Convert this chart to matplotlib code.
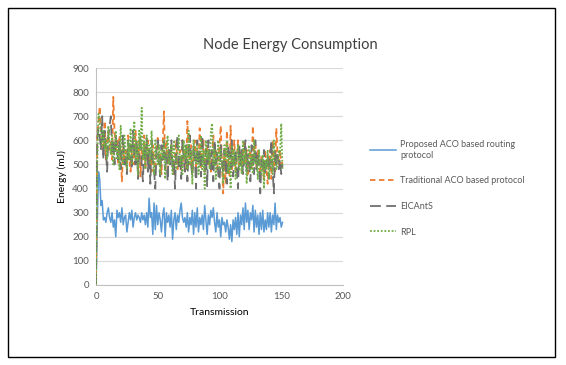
import matplotlib
matplotlib.use("Agg")
import matplotlib.pyplot as plt
from matplotlib.patches import Rectangle
import numpy as np

proposed = [0, 250, 470, 440, 330, 350, 270, 280, 260, 300, 320, 280, 260, 300, 240, 270,
            200, 310, 280, 300, 260, 320, 250, 280, 290, 220, 260, 300, 270, 310, 240, 280,
            300, 270, 290, 280, 260, 300, 270, 290, 250, 300, 240, 360, 280, 300, 210, 340,
            230, 330, 250, 300, 270, 220, 290, 320, 200, 300, 260, 290, 240, 310, 190, 270,
            300, 230, 290, 260, 310, 340, 280, 260, 280, 240, 300, 220, 280, 250, 310, 210,
            300, 240, 320, 220, 280, 250, 290, 230, 330, 270, 210, 290, 250, 310, 280, 320,
            260, 220, 300, 240, 270, 200, 280, 250, 260, 220, 270, 240, 190, 250, 180, 270,
            230, 280, 210, 300, 200, 290, 250, 320, 230, 340, 260, 310, 230, 300, 270, 330,
            220, 310, 240, 290, 210, 300, 230, 310, 220, 270, 230, 300, 240, 300, 220, 290,
            250, 340, 230, 290, 260, 280, 240, 260]
traditional = [0, 620, 680, 740, 650, 600, 560, 680, 520, 600, 640, 560, 590, 520, 780, 640,
               560, 600, 500, 620, 540, 430, 580, 510, 560, 480, 620, 520, 470, 560, 600, 500,
               640, 540, 480, 600, 450, 560, 520, 620, 480, 560, 600, 500, 530, 470, 580, 520,
               480, 560, 610, 500, 540, 460, 580, 720, 520, 600, 480, 560, 520, 580, 500, 460,
               540, 600, 480, 520, 560, 470, 600, 510, 560, 480, 680, 540, 500, 580, 460, 520,
               600, 490, 560, 510, 650, 480, 540, 600, 460, 520, 580, 500, 560, 470, 540, 620,
               500, 560, 480, 520, 580, 660, 500, 380, 560, 420, 640, 510, 450, 660, 480, 540,
               600, 470, 520, 600, 500, 560, 470, 540, 590, 500, 560, 460, 520, 560, 480, 660,
               520, 600, 480, 560, 510, 460, 540, 500, 440, 560, 480, 420, 520, 560, 440, 600,
               510, 470, 650, 540, 500, 560, 480, 520]
eicants = [0, 600, 650, 620, 560, 700, 520, 640, 560, 470, 620, 660, 700, 540, 600, 500,
           620, 560, 520, 600, 480, 560, 620, 500, 540, 460, 600, 520, 580, 480, 640, 540,
           500, 600, 440, 560, 620, 500, 430, 580, 520, 610, 470, 560, 420, 600, 520, 480,
           400, 560, 600, 500, 450, 580, 520, 600, 480, 540, 430, 560, 500, 600, 470, 520,
           400, 560, 620, 480, 540, 440, 600, 520, 470, 580, 430, 560, 620, 500, 450, 580,
           540, 400, 600, 500, 560, 450, 620, 520, 470, 560, 410, 600, 540, 480, 560, 430,
           600, 500, 550, 460, 400, 580, 520, 460, 560, 500, 420, 580, 540, 480, 600, 450,
           520, 560, 480, 400, 580, 500, 560, 460, 520, 600, 470, 540, 500, 430, 580, 520,
           460, 600, 480, 540, 500, 380, 520, 480, 560, 460, 500, 540, 440, 520, 600, 480,
           380, 560, 500, 540, 480, 520, 460, 500]
rpl = [0, 500, 710, 680, 620, 580, 640, 560, 600, 520, 660, 580, 540, 620, 500, 560,
       640, 520, 580, 480, 660, 540, 500, 620, 560, 480, 600, 520, 650, 500, 560, 680,
       520, 600, 460, 640, 560, 735, 520, 600, 480, 620, 540, 580, 500, 640, 520, 460,
       600, 540, 500, 580, 460, 560, 520, 600, 440, 560, 620, 500, 540, 580, 460, 600,
       520, 480, 560, 620, 500, 540, 460, 600, 520, 580, 480, 640, 500, 560, 420, 600,
       540, 500, 580, 460, 520, 620, 480, 560, 400, 600, 520, 560, 480, 640, 670, 500,
       560, 440, 520, 600, 480, 560, 500, 420, 580, 520, 600, 460, 540, 400, 580, 500,
       560, 440, 520, 580, 480, 540, 460, 600, 500, 560, 420, 520, 580, 480, 540, 460,
       600, 500, 520, 440, 560, 500, 460, 540, 400, 520, 480, 560, 440, 500, 540, 460,
       600, 520, 480, 500, 560, 540, 670, 480]

labels = ["Proposed ACO based routing\nprotocol", "Traditional ACO based protocol",
          "EICAntS", "RPL"]

plt.rcParams["font.family"] = ["Lato", "DejaVu Sans"]
txt = "#595959"
fig = plt.figure(figsize=(5.66, 3.65), dpi=100)
fig.patches.append(Rectangle((8 / 566, 8 / 365), 547 / 566, 349 / 365,
                             transform=fig.transFigure, fill=False,
                             edgecolor="black", linewidth=1.0))
ax = fig.add_axes([96 / 566, 80 / 365, 247 / 566, 217 / 365])

ax.plot(np.arange(len(proposed)), proposed, color="#5B9BD5", lw=1.1,
        label=labels[0], zorder=2)
ax.plot(np.arange(len(traditional)), traditional, color="#ED7D31", lw=1.3,
        linestyle=(0, (3, 2)), label=labels[1], zorder=3)
ax.plot(np.arange(len(eicants)), eicants, color="#6F6F6F", lw=1.3,
        linestyle=(0, (6, 3)), label=labels[2], zorder=4)
ax.plot(np.arange(len(rpl)), rpl, color="#70AD47", lw=1.3,
        linestyle=(0, (1, 1)), label=labels[3], zorder=5)

ax.set_xlim(0, 200)
ax.set_ylim(0, 900)
ax.set_xticks(range(0, 201, 50))
ax.set_yticks(range(0, 901, 100))
ax.grid(axis="y", color="#D9D9D9", lw=0.8)
ax.set_axisbelow(True)
for s in ["top", "right"]:
    ax.spines[s].set_visible(False)
for s in ["left", "bottom"]:
    ax.spines[s].set_color("#BFBFBF")
ax.tick_params(length=0, labelsize=7, colors=txt, pad=5)

ax.set_xlabel("Transmission", fontsize=7.5, color="black", labelpad=5)
ax.set_ylabel("Energy (mJ)", fontsize=7.5, color="black", labelpad=4)
fig.text(290 / 566, 1 - 45 / 365, "Node Energy Consumption", ha="center",
         va="center", fontsize=10.5, color="#404040")

leg = fig.legend(loc="upper left", bbox_to_anchor=(362 / 566, 1 - 132 / 365),
                 frameon=False, fontsize=6.5, handlelength=2.9, labelspacing=1.85,
                 handletextpad=0.4)
for t in leg.get_texts():
    t.set_color(txt)

fig.savefig("out.png", dpi=100)
